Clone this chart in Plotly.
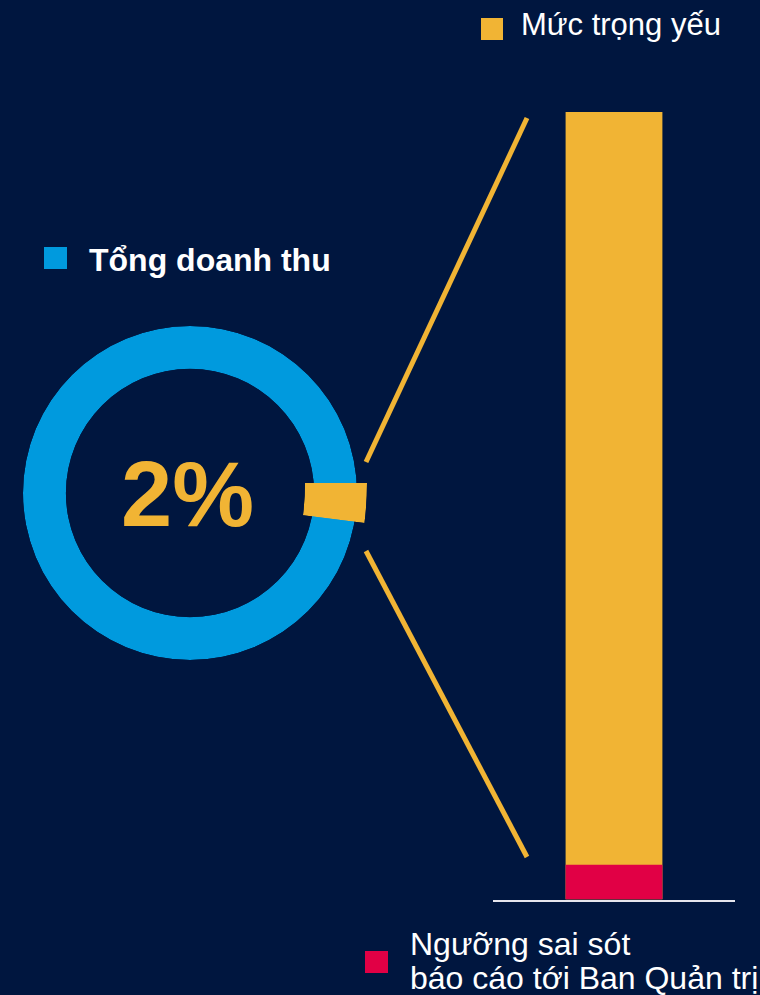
import plotly.graph_objects as go

# ---- data ----
revenue_label = "Tổng doanh thu"
revenue_total = 100
materiality_label = "Mức trọng yếu"
materiality_pct = 2
bar_categories = [""]
materiality_bar = [100]
threshold_label_lines = ["Ngưỡng sai sót", "báo cáo tới Ban Quản trị"]
threshold_bar = [4.4]

# ---- styles ----
BG = "#00163f"
BLUE = "#009ade"
YELLOW = "#f1b434"
RED = "#e10045"
W, H = 760, 995
FONT = "Arial, Liberation Sans, sans-serif"

def px(x):
    return x / W

def py(y):
    return 1 - y / H

ring_deg = 360 * revenue_total / 100
slice_deg = 360 * materiality_pct / 100

fig = go.Figure()

# main revenue ring
fig.add_trace(go.Barpolar(
    r=[1], base=[0], theta=[180], width=[ring_deg], name=revenue_label,
    marker=dict(color=BLUE, line=dict(width=0)), hoverinfo="skip", showlegend=False,
    subplot="polar",
))

# highlighted materiality slice (zoomed sector)
fig.add_trace(go.Barpolar(
    r=[1], base=[0], theta=[-slice_deg / 2], width=[slice_deg], name=materiality_label,
    marker=dict(color=YELLOW, line=dict(width=0)), hoverinfo="skip", showlegend=False,
    subplot="polar2",
))

# bars
fig.add_trace(go.Bar(x=[0], y=materiality_bar, width=0.4, marker=dict(color=YELLOW, line=dict(width=0)),
                     name=materiality_label, showlegend=False, hoverinfo="skip"))
fig.add_trace(go.Bar(x=[0], y=threshold_bar, width=0.4, marker=dict(color=RED, line=dict(width=0)),
                     name=" ".join(threshold_label_lines), showlegend=False, hoverinfo="skip"))

shapes = [
    # connector lines
    dict(type="line", xref="paper", yref="paper", x0=px(366), y0=py(462), x1=px(527), y1=py(118),
         line=dict(color=YELLOW, width=5)),
    dict(type="line", xref="paper", yref="paper", x0=px(366), y0=py(551), x1=px(527), y1=py(857),
         line=dict(color=YELLOW, width=5)),
    # legend keys
    dict(type="rect", xref="paper", yref="paper", x0=px(481), x1=px(503), y0=py(40), y1=py(18),
         fillcolor=YELLOW, line=dict(width=0)),
    dict(type="rect", xref="paper", yref="paper", x0=px(44), x1=px(67), y0=py(269), y1=py(247),
         fillcolor=BLUE, line=dict(width=0)),
    dict(type="rect", xref="paper", yref="paper", x0=px(365), x1=px(388), y0=py(973), y1=py(951),
         fillcolor=RED, line=dict(width=0)),
]

annotations = [
    dict(text=f"{materiality_pct}%", x=px(187), y=py(494), xref="paper", yref="paper",
         xanchor="center", yanchor="middle", showarrow=False,
         font=dict(family=FONT, size=92, color=YELLOW, weight="bold")),
    dict(text=materiality_label, x=px(519), y=py(25), xref="paper", yref="paper",
         xanchor="left", yanchor="middle", showarrow=False,
         font=dict(family=FONT, size=31, color="white")),
    dict(text=f"<b>{revenue_label}</b>", x=px(87), y=py(260), xref="paper", yref="paper",
         xanchor="left", yanchor="middle", showarrow=False,
         font=dict(family=FONT, size=32, color="white")),
    dict(text=threshold_label_lines[0], x=px(408), y=py(944), xref="paper", yref="paper",
         xanchor="left", yanchor="middle", showarrow=False,
         font=dict(family=FONT, size=32, color="white")),
    dict(text=threshold_label_lines[1], x=px(408), y=py(978), xref="paper", yref="paper",
         xanchor="left", yanchor="middle", showarrow=False,
         font=dict(family=FONT, size=32, color="white")),
]

hidden_radial = dict(visible=False, range=[0, 1])
hidden_angular = dict(visible=False)

fig.update_layout(
    width=W, height=H, autosize=False,
    margin=dict(l=0, r=0, t=0, b=0),
    paper_bgcolor=BG, plot_bgcolor=BG,
    barmode="overlay",
    xaxis=dict(domain=[px(493), px(735)], range=[-0.5, 0.5], showgrid=False, zeroline=False,
               showticklabels=False, ticks="", showline=True, linecolor="#e6e6ee", linewidth=2,
               fixedrange=True),
    yaxis=dict(domain=[py(899.5), py(112)], range=[0, 100], showgrid=False, zeroline=False,
               showticklabels=False, ticks="", showline=False, fixedrange=True),
    polar=dict(domain=dict(x=[px(23), px(357)], y=[py(660), py(326)]), hole=0.743,
               bgcolor="rgba(0,0,0,0)", radialaxis=hidden_radial, angularaxis=hidden_angular),
    polar2=dict(domain=dict(x=[px(49), px(367)], y=[py(523), py(483)]), hole=0.805,
                sector=[-slice_deg, 0],
                bgcolor="rgba(0,0,0,0)", radialaxis=hidden_radial, angularaxis=hidden_angular),
    shapes=shapes, annotations=annotations,
    showlegend=False,
)

fig.write_html("out.html")
